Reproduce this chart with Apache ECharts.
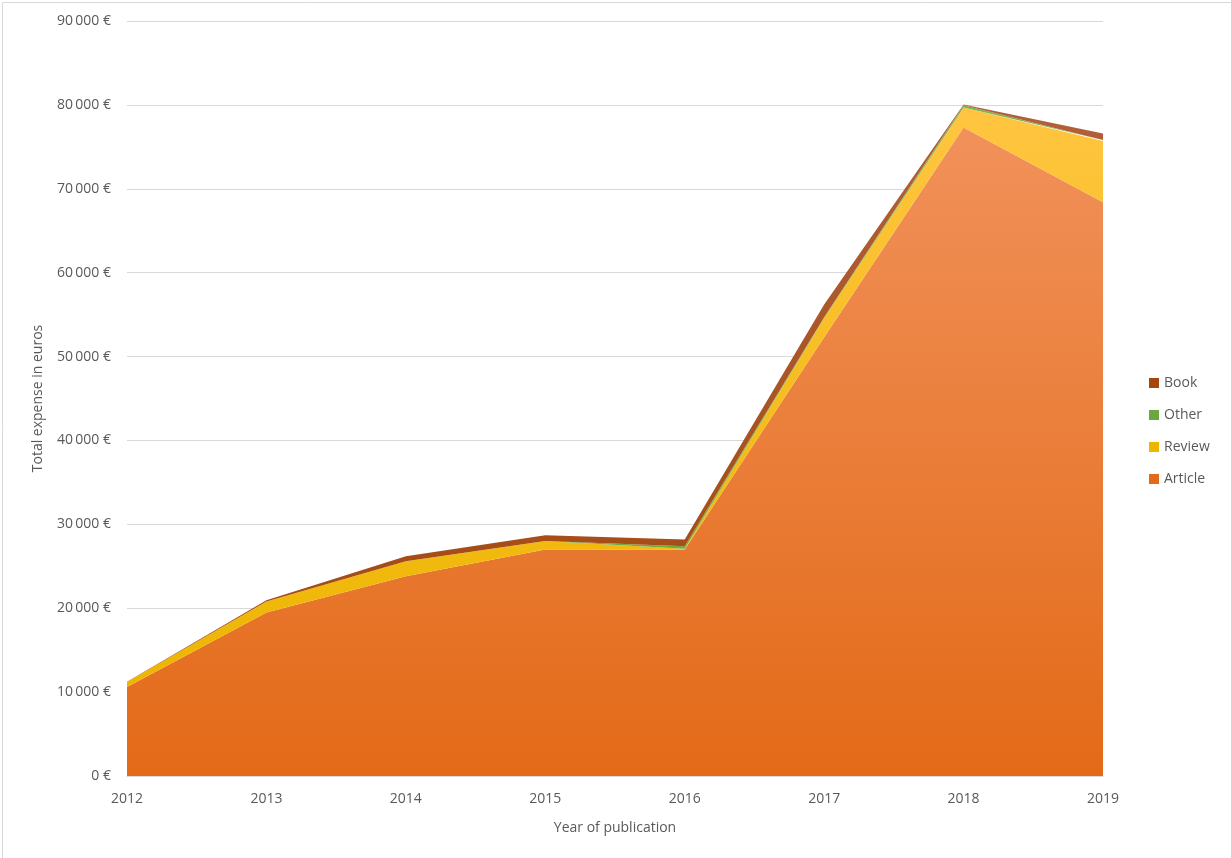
<!DOCTYPE html>
<html>
<head>
<meta charset="utf-8">
<script src="https://cdn.jsdelivr.net/npm/echarts@6/dist/echarts.min.js"></script>
<style>
html,body{margin:0;padding:0;background:#fff;}
#chart{width:1231px;height:858px;}
</style>
</head>
<body>
<div id="chart"></div>
<script>
const years = ['2012','2013','2014','2015','2016','2017','2018','2019'];
const article = [10600, 19500, 23800, 27000, 27000, 52300, 77300, 68400];
const review  = [600, 1300, 1800, 1000, 100, 2300, 2400, 7300];
const other   = [0, 0, 0, 0, 300, 100, 250, 100];
const book    = [50, 150, 600, 700, 800, 1500, 100, 800];
const yTicks = [0, 10000, 20000, 30000, 40000, 50000, 60000, 70000, 80000, 90000];

const chart = echarts.init(document.getElementById('chart'));
const fontFam = "'Open Sans','Liberation Sans',sans-serif";
function fmt(v){
  return String(v).replace(/\B(?=(\d{3})+(?!\d))/g, '\u2009') + ' €';
}
function grad(top, bottom){
  return new echarts.graphic.LinearGradient(0,0,0,1,[{offset:0,color:top},{offset:1,color:bottom}]);
}
function areaSeries(name, data, top, bottom){
  return {
    name: name, type: 'line', stack: 'total', data: data,
    symbol: 'none', lineStyle: {width: 0},
    areaStyle: {color: grad(top, bottom), opacity: 1},
    itemStyle: {color: bottom},
    emphasis: {disabled: true}
  };
}
chart.setOption({
  animation: false,
  backgroundColor: '#fff',
  graphic: [{
    type: 'rect', left: 0, top: 0,
    shape: {x: 0.5, y: 0.5, width: 1229, height: 856},
    style: {fill: 'none', stroke: '#D9D9D9', lineWidth: 1}
  }],
  grid: {left: 127, right: 128, top: 21, bottom: 82},
  legend: {
    orient: 'vertical', left: 1144, top: 371,
    itemWidth: 10, itemHeight: 10, itemGap: 18,
    icon: 'rect',
    textStyle: {color: '#595959', fontSize: 14, fontFamily: fontFam},
    data: ['Book','Other','Review','Article']
  },
  xAxis: {
    type: 'category', data: years, boundaryGap: false,
    name: 'Year of publication', nameLocation: 'middle', nameGap: 45,
    nameTextStyle: {color: '#595959', fontSize: 14, fontFamily: fontFam},
    axisLine: {show: true, lineStyle: {color: '#D9D9D9'}},
    axisTick: {show: false},
    axisLabel: {color: '#595959', fontSize: 14, fontFamily: fontFam, margin: 16}
  },
  yAxis: {
    type: 'value', min: yTicks[0], max: yTicks[yTicks.length-1], interval: 10000,
    name: 'Total expense in euros', nameLocation: 'middle', nameGap: 82,
    nameTextStyle: {color: '#595959', fontSize: 14, fontFamily: fontFam},
    axisLine: {show: false}, axisTick: {show: false},
    splitLine: {lineStyle: {color: '#D9D9D9'}},
    axisLabel: {color: '#595959', fontSize: 14, fontFamily: fontFam, margin: 16, formatter: fmt}
  },
  series: [
    areaSeries('Article', article, '#F1915A', '#E36A18'),
    areaSeries('Review', review, '#FFC540', '#EDB600'),
    areaSeries('Other', other, '#79B552', '#6AA73F'),
    areaSeries('Book', book, '#B2603A', '#A3470D')
  ]
});
</script>
</body>
</html>
